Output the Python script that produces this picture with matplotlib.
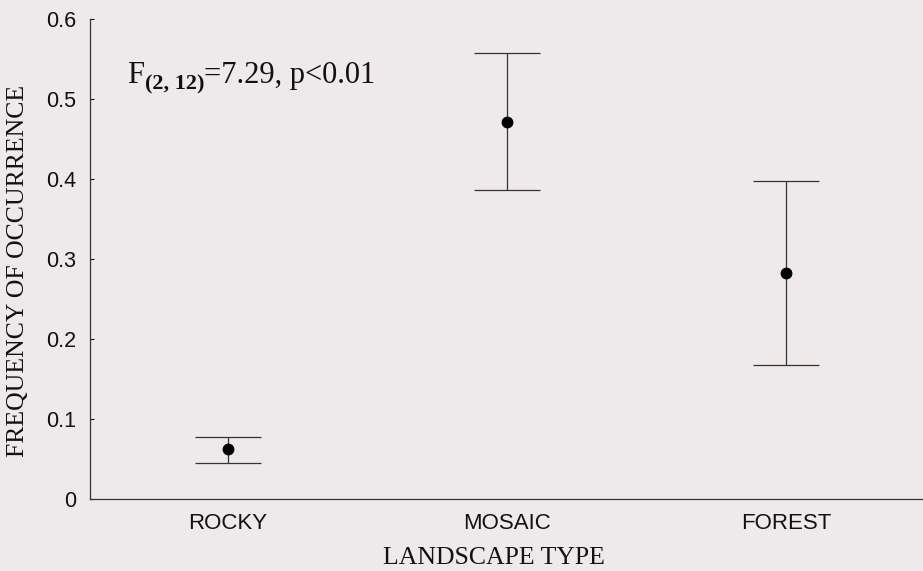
import matplotlib
matplotlib.use("Agg")
import matplotlib.pyplot as plt
from matplotlib.transforms import offset_copy

categories = ["ROCKY", "MOSAIC", "FOREST"]
means = [0.062, 0.471, 0.282]
upper = [0.0775, 0.557, 0.397]
lower = [0.045, 0.386, 0.167]
yticks = [0, 0.1, 0.2, 0.3, 0.4, 0.5, 0.6]
ytick_labels = ["0", "0.1", "0.2", "0.3", "0.4", "0.5", "0.6"]

bg = "#eeeaeb"
W, H = 923, 571
fig = plt.figure(figsize=(W / 100, H / 100), dpi=100, facecolor=bg)
ax = fig.add_axes([90 / W, (H - 499) / H, (W - 90) / W + 0.004, 480 / H])
ax.set_facecolor(bg)

xs = list(range(1, len(categories) + 1))
yerr = [[m - l for m, l in zip(means, lower)], [u - m for u, m in zip(upper, means)]]
ax.errorbar(xs, means, yerr=yerr, fmt="o", color="black", ecolor="#333333",
            elinewidth=0.9, capsize=24, capthick=0.9, markersize=7.5, zorder=3)

ax.set_xlim(0.505, 3.505)
ax.set_ylim(0, 0.6)
ax.set_yticks(yticks)
ax.set_yticklabels(ytick_labels, fontfamily="Liberation Sans", fontsize=15.5)
ax.set_xticks(xs)
ax.set_xticklabels(categories, fontfamily="Liberation Sans", fontsize=16)
ax.tick_params(axis="y", direction="in", length=3, width=0.8, pad=10, colors="#111111")
ax.tick_params(axis="x", length=0, pad=10, colors="#111111")
for s in ["top", "right"]:
    ax.spines[s].set_visible(False)
for s in ["left", "bottom"]:
    ax.spines[s].set_color("#333333")
    ax.spines[s].set_linewidth(0.9)

# annotation F(2,12)=7.29, p<0.01 built from pieces
renderer = fig.canvas.get_renderer()
t1 = ax.text(0.044, 0.867, "F", transform=ax.transAxes, fontfamily="Liberation Serif",
             fontsize=22, ha="left", va="baseline", color="#111111")
w1 = t1.get_window_extent(renderer).width
tr2 = offset_copy(ax.transAxes, fig=fig, x=w1 + 1, y=-7, units="dots")
t2 = ax.text(0.044, 0.867, "(2, 12)", transform=tr2, fontfamily="Liberation Serif",
             fontsize=16, fontweight="bold", ha="left", va="baseline", color="#111111")
w2 = t2.get_window_extent(renderer).width
tr3 = offset_copy(ax.transAxes, fig=fig, x=w1 + w2 + 1, y=0, units="dots")
ax.text(0.044, 0.867, "=7.29, p<0.01", transform=tr3, fontfamily="Liberation Serif",
        fontsize=22, ha="left", va="baseline", color="#111111")

fig.text(494 / W, (H - 558) / H, "LANDSCAPE TYPE", fontfamily="Liberation Serif",
         fontsize=18.5, ha="center", va="center", color="#111111")
fig.text(18 / W, (H - 271) / H, "FREQUENCY OF OCCURRENCE", fontfamily="Liberation Serif",
         fontsize=18.5, ha="center", va="center", rotation=90, color="#111111")

fig.savefig("out.png", dpi=100, facecolor=bg)
